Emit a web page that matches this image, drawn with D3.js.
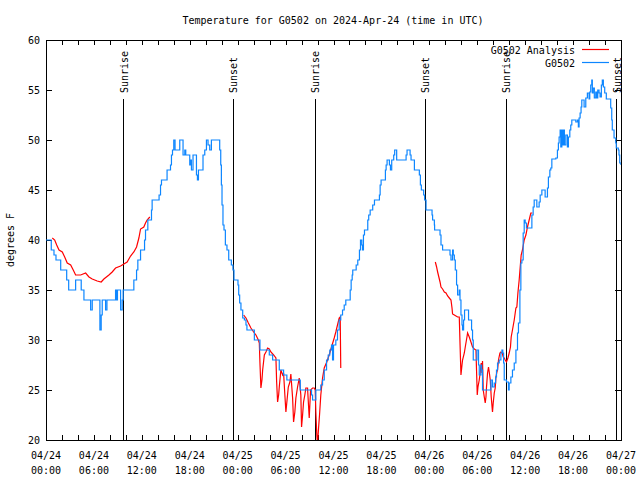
<!DOCTYPE html>
<html>
<head>
<meta charset="utf-8">
<script src="https://cdn.jsdelivr.net/npm/d3@7/dist/d3.min.js"></script>
<style>
  html, body { margin: 0; padding: 0; background: #fff; }
  svg { display: block; }
  text { font-family: "DejaVu Sans Mono", "Liberation Mono", monospace; font-size: 10px; fill: #000; }
</style>
</head>
<body>
<svg id="chart" width="640" height="480"></svg>
<script>
// ---- data (hours since 2024-04-24 00:00 UTC) ----
const titleText = "Temperature for G0502 on 2024-Apr-24 (time in UTC)";
const yLabel = "degrees F";
const seriesNames = ["G0502 Analysis", "G0502"];
const yTickValues = [20, 25, 30, 35, 40, 45, 50, 55, 60];

const obsHours = [0,0.66,1.0,1.25,1.84,2.59,2.84,3.71,4.41,4.75,5.59,5.79,6.75,6.91,7.04,7.46,7.63,8.71,8.85,8.95,9.34,9.54,9.66,11.0,11.34,11.5,11.84,12.34,12.46,12.75,13.21,13.29,14.16,14.34,14.46,15.16,15.59,15.71,15.84,16.0,16.16,16.75,17.16,17.38,17.5,18.0,18.13,18.21,18.41,18.84,18.96,19.09,19.66,19.88,20.09,20.29,20.5,20.71,21.75,21.88,21.96,22.04,22.16,22.29,22.46,22.66,22.88,23.21,23.41,23.54,24.04,24.13,24.25,24.41,24.63,24.84,25.04,25.16,26.09,26.79,27.96,28.38,29.21,29.75,30.16,31.84,33.25,33.38,33.79,34.41,34.63,34.84,35.13,35.34,35.54,35.75,35.88,36.0,36.29,36.5,36.71,36.91,37.13,37.34,37.54,38.09,38.21,38.34,38.41,38.84,39.04,39.25,39.38,39.54,39.63,39.75,39.88,40.29,40.41,40.59,40.91,41.13,41.75,41.84,41.96,42.5,42.59,42.71,43.0,43.13,43.29,43.54,43.66,43.91,45.09,45.21,45.59,45.71,46.13,46.75,46.88,47.0,47.29,47.41,47.59,48.34,48.41,48.63,48.66,49.34,49.46,49.66,50.59,50.71,50.91,51.0,51.13,51.25,51.41,51.54,51.75,51.84,51.96,52.09,52.16,52.29,52.41,52.91,53.29,53.41,53.5,53.96,54.16,54.25,54.46,54.55,54.66,55.71,55.9,56.13,56.3,56.41,56.54,56.75,56.96,57.09,57.2,57.3,57.38,57.66,57.91,58.0,58.21,58.41,58.63,58.84,59.04,59.16,59.34,59.46,59.59,59.75,59.88,60.0,60.16,60.84,61.0,61.13,61.46,61.75,61.88,62.09,62.5,62.79,62.91,63.09,63.21,63.34,63.84,64.04,64.16,64.25,64.38,64.46,64.59,64.66,64.79,64.91,65.09,65.29,65.41,65.59,65.71,65.84,66.34,66.54,66.66,66.75,66.88,67.0,67.09,67.38,67.59,67.79,68.0,68.09,68.21,68.34,68.41,68.5,68.66,68.84,68.96,69.09,69.25,69.38,69.54,69.66,69.79,69.96,70.16,70.71,70.84,70.91,71.13,71.34,71.41,71.66,71.75,71.84,72.0];
const obsTemps = [40,39,38.5,38,37,36,35,36,35,34,33,34,31,32.5,34,33,34,35,34,35,33,34,35,36,37,38,39,40,41,42,43,44,44.5,45.5,46,47,47.5,48.5,49,50,49,50,48.5,49,48.5,47.5,48,47,48.5,46.5,46,47,48.5,49,50,49.5,49,50,49,47.5,45.5,43.5,41.5,41,39.5,39,38,37.5,37,36,35.5,34.5,33.7,33,32.2,32,31.5,31,30,29,28.5,28,27,26.5,26,25,24.5,24,25,25.5,26,27,28,28.5,29,29.5,28,29.5,30,31,32,32.5,33,33.5,34,35,36,36.5,37,37.5,38,39,40,39.5,39,40.5,41,42,42.5,43,43.5,44,44.5,45.5,46,47,47.5,48,47.5,47,48,48.5,49,48,48.5,49,48.5,48,47,46.5,45.5,45,44.5,44,43,42.5,42,41.5,41,40.5,39.5,39,38.5,38,39,38.5,38,37,35.5,34.5,35,34,32.5,31.5,31,32,33,32,31,30,28,29,27.5,26.5,27.5,27,25,26,25.3,25.7,26.3,27,27.7,28,28.7,29,28.7,27.7,26,25.8,25,25.7,26.3,27,27.7,29,30.7,31.7,35,37.7,38,40.7,42,41.7,41.2,42.5,43.3,44,43.3,43.8,44.5,45,44.3,45.2,46.3,47,47.2,48.1,48.2,49,49.7,50.3,51,49.3,51,49.5,51,49.5,50.5,49.3,50.3,51,51.5,52,51.8,52,51.3,52.2,52.7,53.3,54,53.3,54.2,54.7,54.1,54.8,55.5,56,54.7,55.2,54.2,54.8,54.2,55,54.7,54.3,55.5,56,55.3,54.7,54.1,53.2,52,51,50.2,49.7,49.2,49,48.5,47.7,47.5];

// analysis series; null marks a gap
const anaHours = [0.79,1.09,1.34,1.63,2.04,2.34,2.66,3.09,3.41,3.71,4.34,4.96,5.38,5.79,6.41,6.91,7.25,7.88,8.29,8.71,9.34,9.75,10.16,10.59,11.0,11.34,11.63,11.84,12.25,12.46,12.66,13.0,
  13.1,
  24.75,25.04,25.34,25.66,26.0,26.29,26.59,26.71,26.79,26.91,27.04,27.13,27.34,27.54,27.75,27.96,28.16,28.5,28.79,28.88,29.0,29.13,29.21,29.41,29.63,29.75,29.91,30.04,30.16,30.34,30.54,30.66,30.88,31.0,31.16,31.29,31.5,31.71,31.91,32.0,32.13,32.25,32.41,32.54,32.75,32.96,33.13,33.38,33.59,33.71,33.79,33.91,34.0,34.13,34.25,34.41,34.63,34.84,35.16,35.46,35.75,36.09,36.29,36.5,36.71,36.84,36.91,
  37.0,
  48.75,48.91,49.04,49.16,49.34,49.46,49.66,49.88,50.09,50.29,50.5,50.71,50.84,50.91,51.13,51.54,51.75,51.84,51.96,52.09,52.16,52.38,52.5,52.71,52.79,53.0,53.21,53.41,53.63,53.84,53.91,54.0,54.09,54.25,54.38,54.5,54.59,54.66,54.75,54.88,55.0,55.09,55.16,55.29,55.41,55.5,55.63,55.75,55.91,56.0,56.13,56.25,56.34,56.46,56.54,56.66,56.84,56.96,57.13,57.25,57.38,57.5,57.66,57.84,58.0,58.16,58.25,58.41,58.63,58.84,58.96,59.09,59.25,59.38,59.5,59.66,59.88,60.09,60.29,60.5,60.71,60.91];
const anaTemps = [40.2,40,39.5,39,38.8,38.3,37.7,37.5,37,36.5,36.5,36.7,36.3,36.1,35.9,35.8,36.1,36.5,36.8,37.2,37.4,37.6,37.8,38.4,38.8,39.3,40.2,41.1,41.3,41.7,42,42.3,
  null,
  32.5,32.2,31.7,31.2,30.8,30.5,30,29.7,27.7,25.2,26,27,28.5,28.8,29.2,29.1,28.8,28.5,28.2,25.8,23.8,24.5,25.3,27,26.5,26.7,24.5,22.8,23.8,25.3,25.8,26.6,24.2,21.8,22.8,24.2,25.3,26.2,24.5,21.3,22.5,23.8,24.5,25.2,25.2,22.2,25,25.2,25.2,25,22.8,20.5,19.6,21.2,22.5,24.5,26.2,27.2,27.8,28.5,29.3,30.2,30.8,31.5,32.2,32.3,27.2,
  null,
  37.8,37.3,36.8,36.4,35.8,35.3,35.1,34.8,34.7,34.4,34.2,34,33.2,32.6,32.5,32.3,32.3,29.7,26.5,27.5,28,28.7,29.3,30.3,30.7,30.3,29.8,29.3,29.1,29,27,24.5,25.3,26,26.8,27.7,26.7,27.9,25,24.3,23.7,24.3,25.3,26.7,27.3,26.8,26,24.3,22.8,23.7,24.7,25.2,26.3,26.8,27,28,28.7,28.8,28.7,28.3,28.2,28,27.8,28.2,28.7,29.3,30.3,31,32,33.2,33.3,34.7,36,37.3,38.5,39,40,40.5,41.3,42,42.7,42.7];

const sunHours = [9.67, 23.41, 33.67, 47.41, 57.58, 71.41];
const sunLabels = ["Sunrise", "Sunset", "Sunrise", "Sunset", "Sunrise", "Sunset"];

// ---- layout ----
const svg = d3.select("#chart");
const W = 640, H = 480;
const L = 46, R = 621, T = 40, B = 440;
const t0 = Date.UTC(2024, 3, 24);
const toDate = h => new Date(t0 + h * 3600 * 1000);

const x = d3.scaleUtc().domain([toDate(0), toDate(72)]).range([L, R]);
const y = d3.scaleLinear().domain([20, 60]).range([B, T]);

svg.append("defs").append("clipPath").attr("id", "clip")
  .append("rect").attr("x", L).attr("y", T).attr("width", R - L).attr("height", B - T);

// title
svg.append("text").attr("x", 333).attr("y", 24).attr("text-anchor", "middle").text(titleText);

// y label
svg.append("text").attr("transform", "translate(14,240) rotate(-90)")
  .attr("text-anchor", "middle").text(yLabel);

// axes
const tick2h = d3.utcHour.every(2).range(toDate(0), toDate(72.01));
const tick6h = d3.utcHour.every(6).range(toDate(0), toDate(72.01));

const gB = svg.append("g").attr("transform", `translate(0,${B})`)
  .call(d3.axisBottom(x).tickValues(tick2h).tickSizeInner(-5).tickSizeOuter(0).tickFormat(""));
const gT = svg.append("g").attr("transform", `translate(0,${T})`)
  .call(d3.axisTop(x).tickValues(tick2h).tickSizeInner(-5).tickSizeOuter(0).tickFormat(""));
const gL = svg.append("g").attr("transform", `translate(${L},0)`)
  .call(d3.axisLeft(y).tickValues(yTickValues).tickSizeInner(-6).tickSizeOuter(0).tickPadding(6).tickFormat(d3.format("d")));
const gR = svg.append("g").attr("transform", `translate(${R},0)`)
  .call(d3.axisRight(y).tickValues(yTickValues).tickSizeInner(-6).tickSizeOuter(0).tickFormat(""));
[gB, gT, gL, gR].forEach(g => {
  g.selectAll("path,line").attr("stroke", "#000").attr("shape-rendering", "crispEdges");
  g.selectAll("text").style("font-family", '"DejaVu Sans Mono", monospace').style("font-size", "10px").attr("fill", "#000");
});

// x labels (two lines)
const fmtD = d3.utcFormat("%m/%d"), fmtT = d3.utcFormat("%H:%M");
const lab = svg.append("g").selectAll("text").data(tick6h).join("text")
  .attr("text-anchor", "middle");
lab.append("tspan").attr("x", d => x(d)).attr("y", 459).text(d => fmtD(d));
lab.append("tspan").attr("x", d => x(d)).attr("y", 474).text(d => fmtT(d));

// frame
svg.append("rect").attr("x", L).attr("y", T).attr("width", R - L).attr("height", B - T)
  .attr("fill", "none").attr("stroke", "#000").attr("shape-rendering", "crispEdges");

// sun lines
const sun = svg.append("g");
sun.selectAll("line").data(sunHours).join("line")
  .attr("x1", d => Math.round(x(toDate(d))) + 0.5).attr("x2", d => Math.round(x(toDate(d))) + 0.5)
  .attr("y1", 99).attr("y2", B).attr("stroke", "#000").attr("stroke-width", 1);
sun.selectAll("text").data(sunHours).join("text")
  .attr("transform", d => `translate(${x(toDate(d)) + 4.5},93) rotate(-90)`)
  .attr("text-anchor", "start").text((d, i) => sunLabels[i]);

// series
const plot = svg.append("g").attr("clip-path", "url(#clip)");
const obsData = obsHours.map((h, i) => ({ t: toDate(h), v: obsTemps[i] }));
const anaData = anaHours.map((h, i) => ({ t: toDate(h), v: anaTemps[i] }));

plot.append("path").datum(anaData)
  .attr("fill", "none").attr("stroke", "#ff0000").attr("stroke-width", 1.2)
  .attr("d", d3.line().defined(d => d.v !== null).x(d => x(d.t)).y(d => y(d.v)));

plot.append("path").datum(obsData)
  .attr("fill", "none").attr("stroke", "#0d86ff").attr("stroke-width", 1.2)
  .attr("d", d3.line().curve(d3.curveStepAfter).x(d => x(d.t)).y(d => y(d.v)));

// legend
const leg = svg.append("g");
const legColors = ["#ff0000", "#0d86ff"];
seriesNames.forEach((n, i) => {
  const yy = 50 + i * 13;
  leg.append("text").attr("x", 575).attr("y", yy + 3.5).attr("text-anchor", "end").text(n);
  leg.append("line").attr("x1", 582).attr("x2", 609).attr("y1", yy - 0.5).attr("y2", yy - 0.5)
    .attr("stroke", legColors[i]).attr("stroke-width", 1.2);
});
</script>
</body>
</html>
